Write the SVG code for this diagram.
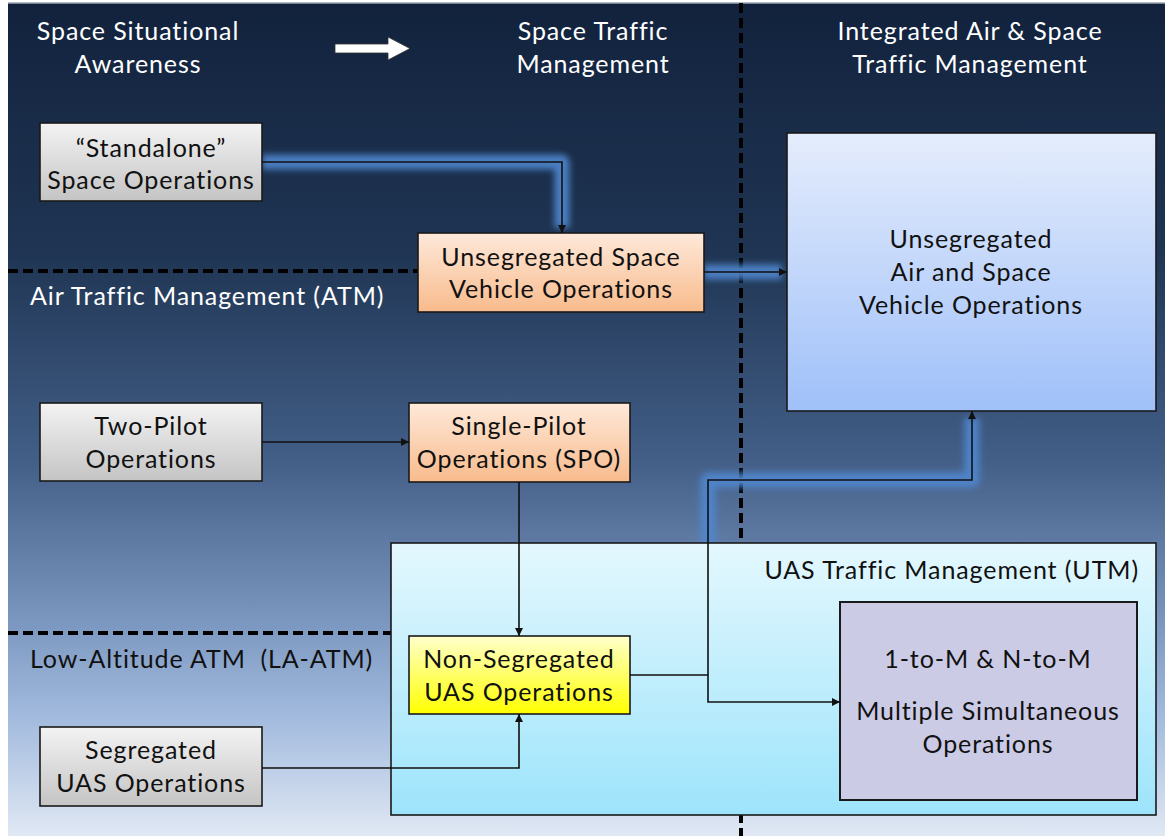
<svg xmlns="http://www.w3.org/2000/svg" width="1165" height="836" viewBox="0 0 1165 836">
  <style>
    .t { font-family: Lato, "Liberation Sans", sans-serif; font-size: 25px; letter-spacing: 0.9px; text-anchor: middle; }
    .w { fill: #ffffff; }
    .k { fill: #111111; }
    .box { stroke: #1a1a1a; stroke-width: 1.6; }
    .div { fill: none; stroke: #000000; stroke-width: 4; stroke-dasharray: 10 5; }
    .glow { fill: none; stroke: #4f87cf; stroke-width: 15; stroke-linejoin: round; opacity: 0.9; filter: url(#soft); }
    .ln { fill: none; stroke: #111111; stroke-width: 1.6; }
  </style>
  <defs>
    <linearGradient id="bg" x1="0" y1="0" x2="0" y2="1">
      <stop offset="0" stop-color="#12223d"/>
      <stop offset="0.3" stop-color="#1f3553"/>
      <stop offset="0.55" stop-color="#435f88"/>
      <stop offset="0.72" stop-color="#7490b9"/>
      <stop offset="0.85" stop-color="#9fb8dc"/>
      <stop offset="1" stop-color="#e0e8f4"/>
    </linearGradient>
    <linearGradient id="gGray" x1="0" y1="0" x2="0" y2="1">
      <stop offset="0" stop-color="#f3f3f3"/>
      <stop offset="1" stop-color="#c4c4c4"/>
    </linearGradient>
    <linearGradient id="gOrange" x1="0" y1="0" x2="0" y2="1">
      <stop offset="0" stop-color="#fee9da"/>
      <stop offset="1" stop-color="#f8bb8c"/>
    </linearGradient>
    <linearGradient id="gYellow" x1="0" y1="0" x2="0" y2="1">
      <stop offset="0" stop-color="#ffffcc"/>
      <stop offset="1" stop-color="#ffff00"/>
    </linearGradient>
    <linearGradient id="gBlue" x1="0" y1="0" x2="0" y2="1">
      <stop offset="0" stop-color="#e5edfc"/>
      <stop offset="1" stop-color="#9fc0f9"/>
    </linearGradient>
    <linearGradient id="gCyan" x1="0" y1="0" x2="0" y2="1">
      <stop offset="0" stop-color="#e4f8fe"/>
      <stop offset="1" stop-color="#9de4fb"/>
    </linearGradient>
    <!-- user-space region so straight (zero-height) paths still get the blur -->
    <filter id="soft" filterUnits="userSpaceOnUse" x="0" y="0" width="1165" height="836">
      <feGaussianBlur stdDeviation="3"/>
    </filter>
    <marker id="ah" viewBox="0 0 10 10" refX="10" refY="5" markerWidth="8" markerHeight="8" markerUnits="userSpaceOnUse" orient="auto">
      <path d="M0,0 L10,5 L0,10 z" fill="#111111"/>
    </marker>
  </defs>

  <!-- page and background -->
  <rect x="0" y="0" width="1165" height="836" fill="#ffffff"/>
  <rect x="8" y="3" width="1157" height="833" fill="url(#bg)"/>
  <line x1="8" y1="3" x2="1165" y2="3" stroke="#9aa4b2" stroke-width="1.5"/>

  <!-- domain dividers -->
  <g id="dividers">
    <line class="div" x1="741" y1="3" x2="741" y2="836"/>
    <line class="div" x1="8" y1="271" x2="418" y2="271"/>
    <line class="div" x1="8" y1="633" x2="391" y2="633"/>
  </g>

  <!-- domain headings -->
  <g id="headings">
    <text class="t w" x="138" y="40">Space Situational</text>
    <text class="t w" x="138" y="73">Awareness</text>
    <text class="t w" x="593" y="40">Space Traffic</text>
    <text class="t w" x="593" y="73">Management</text>
    <text class="t w" x="970" y="40">Integrated Air &amp; Space</text>
    <text class="t w" x="970" y="73">Traffic Management</text>
    <polygon points="335,44 388,44 388,37 410,48.5 388,60 388,53 335,53" fill="#ffffff" stroke="#333333" stroke-width="0.8"/>
    <text class="t w" x="30" y="305" style="text-anchor:start">Air Traffic Management (ATM)</text>
    <text class="t k" x="30" y="668" style="text-anchor:start" xml:space="preserve">Low-Altitude ATM  (LA-ATM)</text>
  </g>

  <!-- glow under the space-side connectors -->
  <g id="connector-glow">
    <path class="glow" d="M262,162 H562 V228"/>
    <path class="glow" d="M704,272 H782"/>
    <path class="glow" d="M708,545 V480 H972 V418"/>
  </g>

  <g id="utm-region">
    <rect class="box" x="391" y="543" width="765" height="272" fill="url(#gCyan)"/>
    <text class="t k" x="1139" y="579" style="text-anchor:end">UAS Traffic Management (UTM)</text>
  </g>

  <g id="standalone">
    <rect class="box" x="40" y="123" width="222" height="78" fill="url(#gGray)"/>
    <text class="t k" x="151" y="157">“Standalone”</text>
    <text class="t k" x="151" y="189">Space Operations</text>
  </g>

  <g id="unseg-space">
    <rect class="box" x="418" y="233" width="286" height="79" fill="url(#gOrange)"/>
    <text class="t k" x="561" y="266">Unsegregated Space</text>
    <text class="t k" x="561" y="298">Vehicle Operations</text>
  </g>

  <g id="unseg-air-space">
    <rect class="box" x="787" y="133" width="369" height="278" fill="url(#gBlue)"/>
    <text class="t k" x="971" y="248">Unsegregated</text>
    <text class="t k" x="971" y="281">Air and Space</text>
    <text class="t k" x="971" y="314">Vehicle Operations</text>
  </g>

  <g id="two-pilot">
    <rect class="box" x="40" y="403" width="222" height="78" fill="url(#gGray)"/>
    <text class="t k" x="151" y="435">Two-Pilot</text>
    <text class="t k" x="151" y="468">Operations</text>
  </g>

  <g id="single-pilot">
    <rect class="box" x="409" y="403" width="221" height="79" fill="url(#gOrange)"/>
    <text class="t k" x="519" y="435">Single-Pilot</text>
    <text class="t k" x="519" y="468">Operations (SPO)</text>
  </g>

  <g id="non-seg-uas">
    <rect class="box" x="409" y="636" width="221" height="78" fill="url(#gYellow)"/>
    <text class="t k" x="519" y="668">Non-Segregated</text>
    <text class="t k" x="519" y="701">UAS Operations</text>
  </g>

  <g id="seg-uas">
    <rect class="box" x="40" y="727" width="222" height="79" fill="url(#gGray)"/>
    <text class="t k" x="151" y="759">Segregated</text>
    <text class="t k" x="151" y="792">UAS Operations</text>
  </g>

  <g id="multi-ops">
    <rect x="840" y="602" width="297" height="198" fill="#cbcbe6" stroke="#1a1a1a" stroke-width="2"/>
    <text class="t k" x="988" y="668">1-to-M &amp; N-to-M</text>
    <text class="t k" x="988" y="720">Multiple Simultaneous</text>
    <text class="t k" x="988" y="753">Operations</text>
  </g>

  <!-- connectors -->
  <g id="connectors">
    <path class="ln" d="M262,162 H562 V233" marker-end="url(#ah)"/>
    <path class="ln" d="M704,272 H787" marker-end="url(#ah)"/>
    <path class="ln" d="M262,442 H409" marker-end="url(#ah)"/>
    <path class="ln" d="M519,482 V636" marker-end="url(#ah)"/>
    <path class="ln" d="M262,768 H519 V714" marker-end="url(#ah)"/>
    <path class="ln" d="M630,675 H708 V702 H840" marker-end="url(#ah)"/>
    <path class="ln" d="M708,675 V480 H972 V411" marker-end="url(#ah)"/>
  </g>
</svg>
